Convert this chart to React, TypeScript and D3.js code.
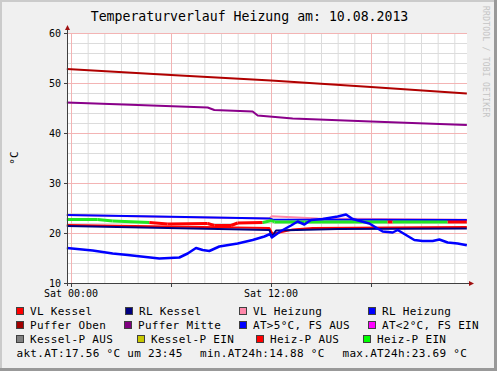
import React from "react";
import * as d3 from "d3";

const TITLE = "Temperaturverlauf Heizung am: 10.08.2013";
const Y_TICKS = [10, 20, 30, 40, 50, 60];
const X_TICK_LABELS = [{ h: 0, label: "Sat 00:00" }, { h: 12, label: "Sat 12:00" }];

// hours relative to Sat 00:00
const pufferObenH = [-0.25, 6, 12, 18, 23.75];
const pufferObenV = [52.8, 51.6, 50.5, 49.2, 47.9];

const pufferMitteH = [-0.25, 4, 8.2, 8.6, 10.9, 11.2, 13.3, 18, 23.75];
const pufferMitteV = [46.1, 45.6, 45.1, 44.6, 44.3, 43.5, 42.9, 42.3, 41.6];

const vlHeizungH = [-0.25, 6, 11.9, 12.05, 14.8, 23.75];
const vlHeizungV = [23.6, 23.2, 22.9, 23.35, 22.9, 22.65];

const rlHeizungH = [-0.25, 6, 11.9, 12.1, 23.75];
const rlHeizungV = [23.6, 23.25, 22.9, 22.7, 22.6];

const rlKesselH = [-0.25, 5.8, 11.9, 12.05, 12.3, 16, 23.75];
const rlKesselV = [21.4, 21.0, 20.6, 19.3, 20.5, 20.8, 20.9];

const vlKesselH = [-0.25, 5.8, 11.9, 12.1, 13.3, 14.5, 23.75];
const vlKesselV = [21.6, 21.3, 21.0, 19.8, 20.7, 21.0, 21.2];

const heizPH = [-0.25, 1.6, 2.5, 4.7, 5.8, 8.2, 8.6, 9.6, 10.0, 11.5, 12.05, 12.2, 14, 19.0, 19.3, 22.6, 23.75];
const heizPV = [22.7, 22.7, 22.4, 22.1, 21.8, 21.9, 21.5, 21.5, 22.0, 22.1, 22.5, 22.2, 22.2, 22.2, 22.2, 22.2, 22.2];
const heizPState = [1, 1, 1, 0, 0, 0, 0, 0, 0, 1, 1, 1, 1, 0, 1, 0, 0];

const atH = [-0.25, 1.3, 2.5, 3.4, 5.3, 6.5, 7.0, 7.5, 7.9, 8.3, 8.9, 10.0, 10.9, 11.6, 11.95, 12.05, 12.6, 13.2, 13.6, 14.0, 14.4, 15.1, 16.0, 16.5, 16.9, 17.9, 18.7, 19.3, 19.6, 20.6, 21.1, 21.7, 22.1, 22.6, 23.2, 23.75];
const atV = [17.0, 16.5, 15.9, 15.6, 14.88, 15.1, 15.9, 17.0, 16.6, 16.4, 17.3, 17.9, 18.6, 19.3, 19.8, 19.1, 20.4, 21.5, 22.3, 21.7, 22.6, 22.8, 23.3, 23.69, 22.8, 21.9, 20.3, 20.1, 20.6, 18.6, 18.4, 18.4, 18.7, 18.1, 17.9, 17.56];

const legendRows = [
  [["VL Kessel", "#ff0000"], ["RL Kessel", "#000080"], ["VL Heizung", "#ff88aa"], ["RL Heizung", "#0000ff"]],
  [["Puffer Oben", "#a00000"], ["Puffer Mitte", "#800080"], ["AT>5°C, FS AUS", "#0000ff"], ["AT<2°C, FS EIN", "#ff00ff"]],
  [["Kessel-P AUS", "#808080"], ["Kessel-P EIN", "#c8c800"], ["Heiz-P AUS", "#ff0000"], ["Heiz-P EIN", "#00ff00"]],
];
const legendX = [
  [16, 125, 239, 368],
  [16, 124, 239, 368],
  [16, 137, 256, 363],
];
const statsTexts = ["akt.AT:17.56 °C um 23:45", "min.AT24h:14.88 °C", "max.AT24h:23.69 °C"];
const statsX = [16.5, 200, 342.5];

export default function App() {
  const W = 497, H = 371;
  const x = d3.scaleLinear().domain([-0.24, 23.76]).range([67, 467]);
  const y = d3.scaleLinear().domain([10, 60]).range([283, 33]);
  const mono = "'DejaVu Sans Mono', monospace";

  const line = (hs: number[], vs: number[]) =>
    d3.line<number>().x((_, i) => x(hs[i])).y((v) => y(v))(vs) || "";

  const minorY = d3.range(10, 61, 2);
  const minorX = d3.range(0, 24, 1);
  const majorX = [0, 6, 12, 18];

  const series: [number[], number[], string, number][] = [
    [vlKesselH, vlKesselV, "#ff0000", 2],
    [rlKesselH, rlKesselV, "#000080", 2],
    [vlHeizungH, vlHeizungV, "#ff88aa", 2],
    [rlHeizungH, rlHeizungV, "#0000ff", 2],
    [pufferObenH, pufferObenV, "#b00000", 2],
    [pufferMitteH, pufferMitteV, "#8a008a", 2],
  ];

  return (
    <svg width={W} height={H} style={{ position: "fixed", left: 0, top: 0 }} fontFamily={mono}>
      <rect x={0} y={0} width={W} height={H} fill="#f0f0f0" />
      {/* border */}
      <rect x={0} y={0} width={W} height={2} fill="#cbcbcb" />
      <rect x={0} y={0} width={2} height={H} fill="#cbcbcb" />
      <rect x={W - 3} y={0} width={3} height={H} fill="#999999" />
      <rect x={0} y={H - 3} width={W} height={3} fill="#999999" />
      <text x={249.5} y={21} textAnchor="middle" fontSize={13.2} fill="#000">{TITLE}</text>
      <text transform="translate(483,6) rotate(90)" fontSize={8} letterSpacing={0.25} fill="#c4c4c4">RRDTOOL / TOBI OETIKER</text>
      {/* plot area */}
      <rect x={67} y={33} width={400} height={250} fill="#ffffff" />
      {minorY.map((v) => (
        <line key={"my" + v} x1={67} x2={467} y1={y(v) + 0.5} y2={y(v) + 0.5} stroke="#dcdcdc" />
      ))}
      {minorX.map((h) => (
        <line key={"mx" + h} x1={x(h) + 0.5} x2={x(h) + 0.5} y1={33} y2={283} stroke="#dcdcdc" />
      ))}
      {Y_TICKS.map((v) => (
        <line key={"My" + v} x1={67} x2={467} y1={y(v) + 0.5} y2={y(v) + 0.5} stroke="#f3b4b4" />
      ))}
      {majorX.map((h) => (
        <line key={"Mx" + h} x1={x(h) + 0.5} x2={x(h) + 0.5} y1={33} y2={283} stroke="#f3b4b4" />
      ))}
      {series.map(([hs, vs, c, w], i) => (
        <path key={"s" + i} d={line(hs, vs)} fill="none" stroke={c} strokeWidth={w} strokeLinejoin="round" />
      ))}
      {heizPV.slice(0, -1).map((v, i) => (
        <path
          key={"hp" + i}
          d={line([heizPH[i], heizPH[i + 1]], [v, heizPV[i + 1]])}
          fill="none"
          stroke={heizPState[i] ? "#22e622" : "#ff0000"}
          strokeWidth={3}
        />
      ))}
      <path d={line(atH, atV)} fill="none" stroke="#0000ff" strokeWidth={2.5} strokeLinejoin="round" />
      {/* axes */}
      <line x1={67.5} x2={67.5} y1={286} y2={29} stroke="#404040" />
      <line x1={64} x2={470} y1={283.5} y2={283.5} stroke="#404040" />
      <path d="M65,30 L70,30 L67.5,25 Z" fill="#a01010" />
      <path d="M469,281 L469,286 L474,283.5 Z" fill="#a01010" />
      {Y_TICKS.map((v) => (
        <g key={"yt" + v}>
          <line x1={64} x2={67} y1={y(v) + 0.5} y2={y(v) + 0.5} stroke="#404040" />
          <text x={61} y={y(v) + 4} textAnchor="end" fontSize={10} fill="#000">{v}</text>
        </g>
      ))}
      {majorX.map((h) => (
        <line key={"xt" + h} x1={x(h) + 0.5} x2={x(h) + 0.5} y1={283} y2={287} stroke="#404040" />
      ))}
      {X_TICK_LABELS.map((t) => (
        <text key={t.label} x={x(t.h)} y={297} textAnchor="middle" fontSize={10} fill="#000">{t.label}</text>
      ))}
      <text transform="translate(18,158) rotate(-90)" textAnchor="middle" fontSize={11} fill="#000">°C</text>
      {/* legend */}
      {legendRows.map((row, r) =>
        row.map(([label, color], c) => (
          <g key={label}>
            <rect x={legendX[r][c] + 0.5} y={307.5 + r * 14} width={7} height={7} fill={color} stroke="#404040" strokeWidth={1} />
            <text x={legendX[r][c] + 14} y={315 + r * 14} fontSize={11} letterSpacing={0.3} fill="#000">{label}</text>
          </g>
        ))
      )}
      {statsTexts.map((t, i) => (
        <text key={t} x={statsX[i]} y={357} fontSize={11} letterSpacing={0.3} fill="#000">{t}</text>
      ))}
    </svg>
  );
}
